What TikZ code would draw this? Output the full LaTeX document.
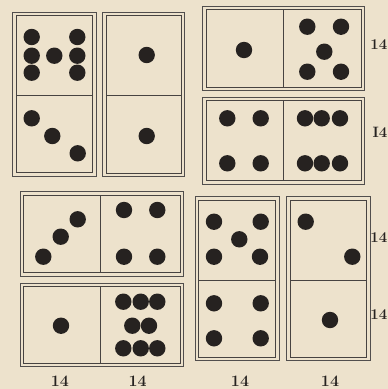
\documentclass[tikz,border=0pt]{standalone}
\usetikzlibrary{positioning}
\definecolor{paper}{RGB}{237,226,204}
\definecolor{ink}{RGB}{38,34,32}

\begin{document}
\begin{tikzpicture}[
        x=1pt, y=-1pt,
        face/.style={draw=ink!85, line width=1pt},
        frame/.style={draw=ink!80, line width=0.9pt},
        pip/.style={fill=ink},
        sumlabel/.style={font=\fontsize{16}{18}\selectfont\bfseries, text=ink, inner sep=0pt},
        sideLabel/.style={sumlabel, font=\fontsize{15}{17}\selectfont\bfseries, anchor=east}
    ]
    \fill[paper] (0,0) rectangle (388,389);
    \useasboundingbox (0,0) rectangle (388,389);

    % Top left: two upright dominoes
    \draw[frame] (12.5,12) rectangle (96,176);
    \draw[face] (16,15.5) rectangle (92.7,172.7);
    \draw[face] (16,95) -- (92.7,95);
    \foreach \x/\y in {31.7/37, 31.7/55.7, 31.7/72.7, 54.3/55.7, 77.3/37, 77.3/55.7, 77.3/72.7,
                       31.7/118.3, 52.3/136, 77.7/153.3}
        \fill[pip] (\x,\y) circle (8.2);

    \draw[frame] (102.7,12.3) rectangle (184.7,176.5);
    \draw[face] (106,15.5) rectangle (181.5,173);
    \draw[face] (106,95) -- (181.5,95);
    \foreach \x/\y in {146.7/55, 146.7/136}
        \fill[pip] (\x,\y) circle (8.2);

    % Top right: two flat dominoes
    \draw[frame] (202.3,6.5) rectangle (364.7,90.7);
    \draw[face] (206,9.8) rectangle (361,87.3);
    \draw[face] (283.3,9.8) -- (283.3,87.3);
    \foreach \x/\y in {244/50, 307.3/26.7, 341/26.7, 324.3/51.7, 307.3/71.7, 341/71.7}
        \fill[pip] (\x,\y) circle (8.2);

    \draw[frame] (202.3,97.5) rectangle (364.7,184);
    \draw[face] (206,100.7) rectangle (361,180.5);
    \draw[face] (283.3,100.7) -- (283.3,180.5);
    \foreach \x/\y in {227.3/118.3, 260.7/118.3, 227.3/163.3, 260.7/163.3,
                       305/118.3, 321.7/118.3, 340/118.3, 305/163.3, 321.7/163.3, 340/163.3}
        \fill[pip] (\x,\y) circle (8.2);

    % Bottom left: two flat dominoes
    \draw[frame] (20,191.7) rectangle (183.3,276);
    \draw[face] (23.3,195) rectangle (180,272.5);
    \draw[face] (100.7,195) -- (100.7,272.5);
    \foreach \x/\y in {43.3/256.7, 60.7/236.7, 77.7/219.3, 124/210, 157.3/210, 124/256.7, 157.3/256.7}
        \fill[pip] (\x,\y) circle (8.2);

    \draw[frame] (20,283) rectangle (183.3,366.7);
    \draw[face] (23.3,286.5) rectangle (180,363);
    \draw[face] (100.7,286.5) -- (100.7,363);
    \foreach \x/\y in {61/325.7, 123.3/301.7, 140.7/301.7, 157.3/301.7, 132.3/325.7, 149/325.7,
                       123.3/348.3, 140.7/348.3, 157.3/348.3}
        \fill[pip] (\x,\y) circle (8.2);

    % Bottom right: two upright dominoes
    \draw[frame] (195,196.7) rectangle (279,360.7);
    \draw[face] (198.5,200) rectangle (275.5,357);
    \draw[face] (198.5,280.5) -- (275.5,280.5);
    \foreach \x/\y in {214/221.7, 260.7/221.7, 239.3/239.3, 214/256.7, 260/256.7,
                       214/303.3, 260.7/303.3, 214/338.3, 260.7/338.3}
        \fill[pip] (\x,\y) circle (8.2);

    \draw[frame] (286.7,196.7) rectangle (370.5,360.7);
    \draw[face] (290,200) rectangle (366.7,357);
    \draw[face] (290,280) -- (366.7,280);
    \foreach \x/\y in {305.7/221.7, 352.3/256.7, 330/320}
        \fill[pip] (\x,\y) circle (8.2);

    % Sums
    \node[sideLabel] (sumC) at (387.5,45) {14};
    \node[sideLabel] (sumD) at (387.5,132) {I4};
    \node[sideLabel] (sumG) at (387.5,238) {14};
    \node[sideLabel] (sumH) at (387.5,315) {14};
    \node[sumlabel] (sumE) at (60,381.5) {14};
    \node[sumlabel] (sumF) at (137.7,381.5) {14};
    \node[sumlabel] (sumG2) at (240,381.5) {14};
    \node[sumlabel] (sumH2) at (330,381.5) {14};
\end{tikzpicture}
\end{document}
